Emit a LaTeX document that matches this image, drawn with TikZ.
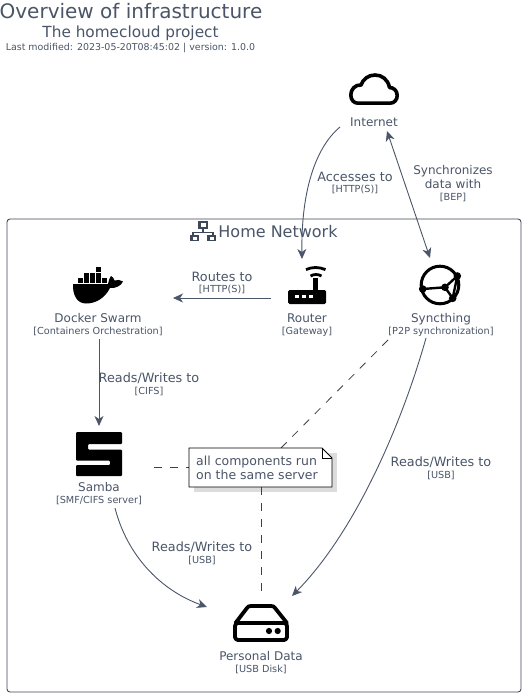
\documentclass[tikz,border=0pt]{standalone}
\usepackage{fontspec}
\setmainfont{DejaVu Sans}
\usetikzlibrary{arrows.meta}
\definecolor{txt}{HTML}{4A5568}
\definecolor{edgecol}{HTML}{4C566A}
\definecolor{framecol}{HTML}{3E4859}
\definecolor{ink}{HTML}{000000}
\definecolor{noteshadow}{HTML}{DCDCDC}
\tikzset{
  x=1pt,y=-1pt,
  big/.style={anchor=base,inner sep=0pt,text=txt,font=\fontsize{12}{14}\selectfont},
  edgebig/.style={anchor=base,inner sep=0pt,text=txt,font=\fontsize{12.8}{14}\selectfont},
  tiny/.style={anchor=base,inner sep=0pt,text=txt,font=\fontsize{9.7}{11}\selectfont},
  conn/.style={draw=edgecol,line width=0.9pt,-{Stealth[length=10pt,width=9pt,inset=3pt]}},
  biconn/.style={draw=edgecol,line width=0.9pt,{Stealth[length=10pt,width=9pt,inset=3pt]}-{Stealth[length=10pt,width=9pt,inset=3pt]}},
  notelink/.style={draw=black!75,line width=0.8pt,dash pattern=on 8pt off 8pt},
  iconline/.style={draw=ink,line width=3.6pt,line join=round,line cap=round},
}
\begin{document}
\begin{tikzpicture}
\useasboundingbox (0,0) rectangle (525,698);
\fill[white] (0,0) rectangle (525,698);
% title
\node[anchor=base,inner sep=0pt,text=txt,font=\fontsize{20}{24}\selectfont] (title) at (131,19) {Overview of infrastructure};
\node[anchor=base,inner sep=0pt,text=txt,font=\fontsize{15.3}{18}\selectfont] (subtitle) at (130.5,38) {The homecloud project};
\node[tiny,font=\fontsize{9.45}{11}\selectfont] (modified) at (130.5,50.5) {Last modified: 2023-05-20T08:45:02 | version: 1.0.0};
% boundary
\draw[framecol,line width=0.9pt,rounded corners=3pt] (7,219) rectangle (521,692);
\node[anchor=base,inner sep=0pt,text=txt,font=\fontsize{16}{18}\selectfont] (hometitle) at (278,237) {Home Network};
% network icon
\fill[framecol] (198,221) rectangle (208,229);
\fill[white] (200.5,223) rectangle (205.5,227);
\fill[framecol] (202,229) rectangle (204,232);
\fill[framecol] (192,231.5) rectangle (214,233);
\fill[framecol] (192,233) rectangle (194,235);
\fill[framecol] (212,233) rectangle (214,235);
\fill[framecol] (190,235) rectangle (199,241);
\fill[white] (192.5,237) rectangle (196.5,239.5);
\fill[framecol] (207,235) rectangle (216,241);
\fill[white] (209.5,237) rectangle (213.5,239.5);
% cloud
\draw[iconline] (358,103.2) -- (390,103.2)
  .. controls (394.5,103.2) and (397.2,99.5) .. (397.2,95.5)
  .. controls (397.2,90.5) and (393.5,87.5) .. (389.5,87.5)
  .. controls (388,79.5) and (382,75) .. (375,75)
  .. controls (368,75) and (363,79.5) .. (361,85)
  .. controls (355,84.5) and (350.8,89.5) .. (350.8,95)
  .. controls (350.8,100) and (354,103.2) .. (358,103.2) -- cycle;
% whale
\fill[ink] (73,284) -- (108,284) .. controls (108.5,281) and (109.5,278) .. (111,276)
  .. controls (113,277) and (114,278.5) .. (114.5,280.5)
  .. controls (117.5,279.5) and (120.5,279.7) .. (123,281.5)
  .. controls (121,286) and (115.5,288.5) .. (110,288)
  .. controls (105,298) and (96,303.5) .. (86,303.5)
  .. controls (77,303.5) and (72.5,295) .. (73,284) -- cycle;
\foreach \bx/\by in {96/267,  84/273,90/273,96/273,  78/278.3,84/278.3,90/278.3,96/278.3,102/278.3}
  \fill[ink] (\bx,\by) rectangle +(5,4.8);
% router
\draw[ink,line width=2.8pt] (306,269.6) .. controls (312,266.8) and (319,266.8) .. (325.5,269.6);
\draw[ink,line width=2.8pt] (310.5,276) .. controls (314,274) and (318,274) .. (321.5,276);
\fill[ink] (313,278) rectangle (317.5,291);
\fill[ink,rounded corners=1.5pt] (288,290) rectangle (326,304);
\foreach \bx in {295,302,309} \fill[white] (\bx,294.8) rectangle +(4,3.6);
% syncthing
\coordinate (sa) at (422.7,289);
\coordinate (sb) at (445,287.3);
\coordinate (sc) at (457.3,276);
\coordinate (sd) at (452.7,298.3);
\draw[ink,line width=3pt] (440,285) circle (18.8);
\draw[ink,line width=2.4pt] (sa) -- (sb) -- (sc) -- (sd) -- (sb);
\foreach \p in {sa,sb,sc,sd} \fill[ink] (\p) circle (3.8);
% samba
\fill[ink,rounded corners=1pt] (76,432) -- (122,432) -- (122,444) -- (88,444) -- (88,449.5) -- (122,449.5) -- (122,476) -- (76,476) -- (76,465) -- (110,465) -- (110,460.7) -- (76,460.7) -- cycle;
% disk
\draw[iconline,line width=3.8pt] (235.5,623) -- (247,608) .. controls (248,606.5) and (249,606) .. (251,606) -- (271,606) .. controls (273,606) and (274,606.5) .. (275,608) -- (287,623);
\draw[iconline,line width=3.8pt,rounded corners=3pt] (235,623) rectangle (287,640);
\fill[ink] (269,631) circle (3.1);
\fill[ink] (277.7,631) circle (3.1);
% person labels
\node[big] (internet) at (374,126) {Internet};
\node[big] (router) at (307,322.5) {Router};
\node[tiny] (routertech) at (307,334.5) {[Gateway]};
\node[big] (docker) at (98,322.5) {Docker Swarm};
\node[tiny] (dockertech) at (98,334.5) {[Containers Orchestration]};
\node[big] (syncthing) at (441,322.5) {Syncthing};
\node[tiny] (syncthingtech) at (441,334.5) {[P2P synchronization]};
\node[big] (samba) at (99,491.5) {Samba};
\node[tiny] (sambatech) at (99,503.5) {[SMF/CIFS server]};
\node[big] (data) at (261,660.5) {Personal Data};
\node[tiny] (datatech) at (261,672.5) {[USB Disk]};
% note
\fill[noteshadow] (194,453) rectangle (337,492);
\coordinate (noteN) at (281,448);
\coordinate (noteW) at (189,467);
\coordinate (noteS) at (261,487);
\coordinate (syncS) at (388,340);
\coordinate (sambaE) at (154,467);
\coordinate (dataN) at (261,591);
\draw[notelink] (syncS) -- (noteN);
\draw[notelink] (sambaE) -- (noteW);
\draw[notelink] (noteS) -- (dataN);
\draw[black,fill=white,line width=0.8pt] (189,448) -- (322,448) -- (332,458) -- (332,487) -- (189,487) -- cycle;
\draw[black,line width=0.8pt] (322,448) -- (322,458) -- (332,458);
\node[anchor=base west,inner sep=0pt,text=txt,font=\fontsize{12.5}{14}\selectfont] (noteone) at (196,465) {all components run};
\node[anchor=base west,inner sep=0pt,text=txt,font=\fontsize{12.5}{14}\selectfont] (notetwo) at (196,479) {on the same server};
% connector ends
\coordinate (internetS) at (340,127);
\coordinate (routerN) at (302,259);
\coordinate (internetB) at (387,131);
\coordinate (syncN) at (430,258);
\coordinate (routerW) at (271,298);
\coordinate (dockerE) at (173,298);
\coordinate (dockerS) at (99,339);
\coordinate (sambaN) at (99,426);
\coordinate (sambaS) at (115,508);
\coordinate (dataW) at (207,607);
\coordinate (syncB) at (426,338);
\coordinate (dataNE) at (292,596);
\draw[conn] (internetS) .. controls (316,147) and (301,190) .. (routerN);
\draw[biconn] (internetB) -- (syncN);
\draw[conn] (routerW) -- (dockerE);
\draw[conn] (dockerS) -- (sambaN);
\draw[conn] (sambaS) .. controls (127,555) and (160,590) .. (dataW);
\draw[conn] (syncB) .. controls (403,420) and (357,530) .. (dataNE);
% edge labels
\node[edgebig] (la) at (355,181) {Accesses to};
\node[tiny] (lat) at (355,192.5) {[HTTP(S)]};
\node[big] (lb) at (453,174) {Synchronizes};
\node[big] (lbb) at (453,188) {data with};
\node[tiny] (lbt) at (453,200) {[BEP]};
\node[edgebig] (lc) at (222,281) {Routes to};
\node[tiny] (lct) at (222,292.5) {[HTTP(S)]};
\node[edgebig] (ld) at (149,382) {Reads/Writes to};
\node[tiny] (ldt) at (149,394) {[CIFS]};
\node[edgebig] (le) at (441,466) {Reads/Writes to};
\node[tiny] (let) at (441,478) {[USB]};
\node[edgebig] (lf) at (202,551) {Reads/Writes to};
\node[tiny] (lft) at (202,563) {[USB]};
\end{tikzpicture}
\end{document}
